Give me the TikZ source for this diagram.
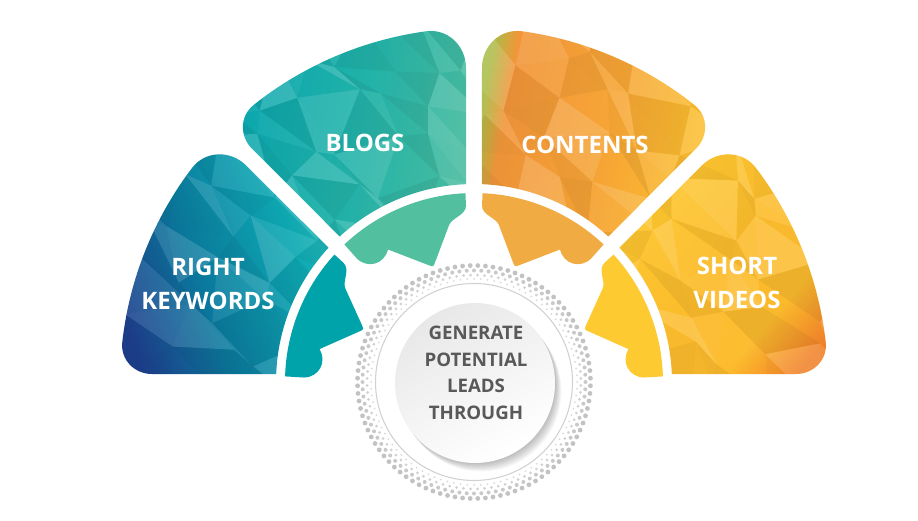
\documentclass[tikz,border=0pt]{standalone}
\usepackage{fontspec}
\setsansfont{Open Sans}

% sector colours
\definecolor{rkwA}{HTML}{1E3F8E}
\definecolor{rkwM}{HTML}{0B7A9E}
\definecolor{rkwB}{HTML}{0EAAB4}
\definecolor{rkwC}{HTML}{33BEB8}
\definecolor{blgA}{HTML}{0AA6AE}
\definecolor{blgM}{HTML}{22B3AA}
\definecolor{blgB}{HTML}{4ABC9E}
\definecolor{cntG}{HTML}{A9BC46}
\definecolor{cntA}{HTML}{F2963A}
\definecolor{cntM}{HTML}{F6A535}
\definecolor{cntB}{HTML}{FCC42D}
\definecolor{shvA}{HTML}{FDCB30}
\definecolor{shvM}{HTML}{FCBC2D}
\definecolor{shvB}{HTML}{F1822A}
\definecolor{rkwIn}{HTML}{00A3AA}
\definecolor{blgIn}{HTML}{52BF9E}
\definecolor{cntIn}{HTML}{F0AC43}
\definecolor{shvIn}{HTML}{FDCB31}
\definecolor{hubText}{HTML}{595959}

\pgfdeclarehorizontalshading{rkwsh}{100bp}{color(0bp)=(rkwA); color(25bp)=(rkwA); color(42bp)=(rkwM); color(62bp)=(rkwB); color(75bp)=(rkwC); color(100bp)=(rkwC)}
\pgfdeclarehorizontalshading{blgsh}{100bp}{color(0bp)=(blgA); color(25bp)=(blgA); color(50bp)=(blgM); color(75bp)=(blgB); color(100bp)=(blgB)}
\pgfdeclarehorizontalshading{cntsh}{100bp}{color(0bp)=(cntG); color(25bp)=(cntG); color(30bp)=(cntA); color(52bp)=(cntM); color(75bp)=(cntB); color(100bp)=(cntB)}
\pgfdeclarehorizontalshading{shvsh}{100bp}{color(0bp)=(shvA); color(25bp)=(shvA); color(52bp)=(shvM); color(66bp)=(shvM); color(77bp)=(shvB); color(100bp)=(shvB)}

\tikzset{
  rkw/.style={shift={(474,139)}, rotate=135},
  blg/.style={shift={(474,139)}, rotate=90},
  cnt/.style={shift={(474,139)}, xscale=-1, rotate=90},
  shv/.style={shift={(474,139)}, xscale=-1, rotate=135},
  lbl/.style={text=white, align=center, font=\sffamily\bfseries\fontsize{18}{25}\selectfont},
  hubtxt/.style={text=hubText, align=center, font=\sffamily\bfseries\fontsize{14}{20}\selectfont}
}

% outer petal, local angles 0..45
\newcommand{\outerpath}{(2.3:198) -- (1.46:314) .. controls (1.36:336) and (4.2:354.7) .. (7.8:354)
  arc[start angle=7.8, end angle=38.5, radius=354]
  .. controls (41.4:354.5) and (43.65:339.7) .. (43.58:322) -- (42.7:198)
  arc[start angle=42.7, end angle=2.3, radius=198] -- cycle}

% inner tab, local angles 0..45
\newcommand{\innerpath}{(43.3:189) arc[start angle=43.3, end angle=2.6, radius=189]
  -- (2.6:177) .. controls (2.6:167) and (7.6:166) .. (9:159)
  -- (17.9:126.2) .. controls (19.5:122) .. (21.3:125.5)
  -- (33:158) .. controls (37.2:148) and (43.2:155) .. (43.5:170) -- cycle}

% low poly facets
\newcommand{\facets}[4]{%
  \foreach \i in {#1,...,#2}{%
    \foreach \j in {#3,...,#4}{%
      \coordinate (f1) at ({vx(\i,\j)},{vy(\i,\j)});
      \coordinate (f2) at ({vx(\i+1,\j)},{vy(\i+1,\j)});
      \coordinate (f3) at ({vx(\i,\j+1)},{vy(\i,\j+1)});
      \coordinate (f4) at ({vx(\i+1,\j+1)},{vy(\i+1,\j+1)});
      \pgfmathsetmacro\wta{max(0,sh(\i,\j,1))*0.15}
      \pgfmathsetmacro\bka{max(0,-sh(\i,\j,1))*0.06}
      \pgfmathsetmacro\wtb{max(0,sh(\i,\j,2))*0.15}
      \pgfmathsetmacro\bkb{max(0,-sh(\i,\j,2))*0.06}
      \fill[white, fill opacity=\wta] (f1) -- (f2) -- (f3) -- cycle;
      \fill[black, fill opacity=\bka] (f1) -- (f2) -- (f3) -- cycle;
      \fill[white, fill opacity=\wtb] (f2) -- (f4) -- (f3) -- cycle;
      \fill[black, fill opacity=\bkb] (f2) -- (f4) -- (f3) -- cycle;
    }}}

\begin{document}
\begin{tikzpicture}[x=0.75pt, y=0.75pt, declare function={
    vx(\i,\j)=95+42*\i+13*sin(113*\i+71*\j+17*\i*\j);
    vy(\i,\j)=125+42*\j+13*cos(97*\i+53*\j+29*\i*\j);
    sh(\i,\j,\k)=sin(61*\i+149*\j+83*\k+31*\i*\j);}]
\useasboundingbox (0,0) rectangle (918,521);

% outer petals
\begin{scope}
  \clip[rkw] \outerpath;
  \shade[shading=rkwsh, shading angle=20] (110,135) rectangle (360,385);
  \facets{0}{6}{0}{6}
\end{scope}
\begin{scope}
  \clip[blg] \outerpath;
  \shade[shading=blgsh, shading angle=-10] (235,260) rectangle (475,510);
  \facets{3}{9}{3}{9}
\end{scope}
\begin{scope}
  \clip[cnt] \outerpath;
  \shade[shading=cntsh, shading angle=-10] (478,260) rectangle (720,510);
  \facets{8}{15}{3}{9}
\end{scope}
\begin{scope}
  \clip[shv] \outerpath;
  \shade[shading=shvsh, shading angle=-40] (590,135) rectangle (840,385);
  \facets{11}{18}{0}{6}
\end{scope}

% inner tabs
\fill[rkwIn, rkw] \innerpath;
\fill[blgIn, blg] \innerpath;
\fill[cntIn, cnt] \innerpath;
\fill[shvIn, shv] \innerpath;

% dotted ring
\foreach \r/\d/\g [count=\n] in {116.5/2.4/24, 111.5/2.0/21, 107/1.5/18, 103/1.0/15}
  \foreach \a in {0,3.75,...,356.25}
    \fill[black!\g] (474,139) ++({\a+\n*1.875}:\r) circle[radius=\d];
\draw[black!18, line width=0.8pt] (474,139) circle[radius=98.5];

% hub disc
\foreach \k in {1,...,7}
  \fill[black, fill opacity=0.04] (475+0.9*\k, 138-1.2*\k) circle[radius=80];
\shade[top color=black!9, bottom color=white, shading angle=30] (475,138) circle[radius=80];

% labels
\node[lbl] (keywords) at (208,237) {RIGHT\\KEYWORDS};
\node[lbl] (blogs) at (365,378) {BLOGS};
\node[lbl] (contents) at (585,376) {CONTENTS};
\node[lbl] (videos) at (737,238) {SHORT\\VIDEOS};
\node[hubtxt] (hub) at (476,148) {GENERATE\\POTENTIAL\\LEADS\\THROUGH};
\end{tikzpicture}
\end{document}
